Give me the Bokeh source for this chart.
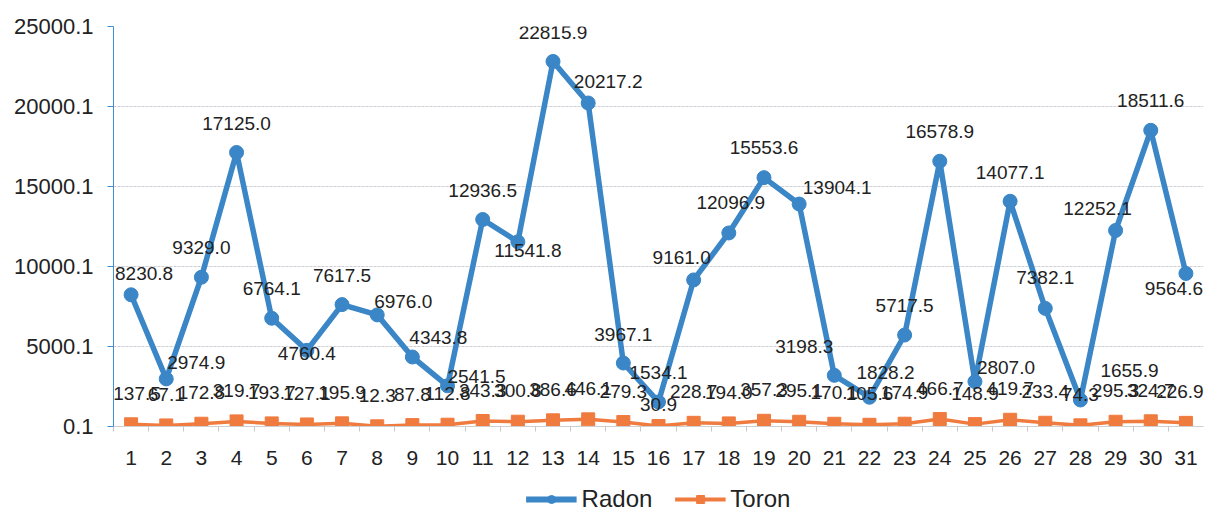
from bokeh.plotting import figure
from bokeh.layouts import column
from bokeh.models import (ColumnDataSource, FixedTicker, CustomJSTickFormatter, Legend,
                          LegendItem, Range1d, LabelSet)
from bokeh.core.properties import value
from bokeh.embed import file_html
from bokeh.resources import INLINE

days = list(range(1, 32))
radon = [8230.8, 2974.9, 9329.0, 17125.0, 6764.1, 4760.4, 7617.5, 6976.0, 4343.8, 2541.5,
         12936.5, 11541.8, 22815.9, 20217.2, 3967.1, 1534.1, 9161.0, 12096.9, 15553.6, 13904.1,
         3198.3, 1828.2, 5717.5, 16578.9, 2807.0, 14077.1, 7382.1, 1655.9, 12252.1, 18511.6, 9564.6]
toron = [137.5, 67.1, 172.8, 319.7, 193.7, 127.1, 195.9, 12.3, 87.8, 112.8,
         343.3, 300.8, 386.6, 446.1, 279.3, 30.9, 228.7, 194.0, 357.3, 295.1,
         170.1, 105.6, 174.9, 466.7, 148.9, 419.7, 233.4, 74.3, 295.3, 324.7, 226.9]
y_ticks = [0.1, 5000.1, 10000.1, 15000.1, 20000.1, 25000.1]

# label placement offsets (screen px, positive = right / up)
radon_dx = [13, 30, 0, 0, 0, 0, 0, 26, 26, 29, 0, 10, 0, 20, 0, 0, -12, 2, 0, 38,
            -30, 16, 0, 0, 31, 0, 0, 49, -18, 0, -12]
radon_dy = [21, 16, 30, 29, 30, -3, 29, 13, 20, 9, 29, -9, 29, 22, 29, 29, 22, 30, 30, 17,
            29, 25, 30, 30, 14, 29, 31, 30, 22, 30, -15]
toron_dx = [0] * 31
toron_dx[0] = 6
toron_dx[30] = -6
toron_dy = [31] * 31
toron_dy[15] = 22

BLUE = "#3a86c6"
ORANGE = "#f07b3f"
FONT = "Liberation Sans"

p = figure(width=1224, height=485, output_backend="svg", toolbar_location=None,
           x_range=Range1d(0.5, 31.5), y_range=Range1d(0.1, 25000.1),
           min_border_left=113, min_border_right=21, min_border_top=26, min_border_bottom=59)
p.outline_line_color = None
p.background_fill_color = "white"

rsrc = ColumnDataSource(dict(x=days, y=radon, label=[f"{v:.1f}" for v in radon],
                             dx=radon_dx, dy=radon_dy))
tsrc = ColumnDataSource(dict(x=days, y=toron, label=[f"{v:.1f}" for v in toron],
                             dx=toron_dx, dy=toron_dy))

p.line("x", "y", source=rsrc, line_color=BLUE, line_width=5.5)
p.scatter("x", "y", source=rsrc, marker="circle", size=14, fill_color=BLUE, line_color=BLUE)
p.line("x", "y", source=tsrc, line_color=ORANGE, line_width=3.5)
p.scatter("x", "y", source=tsrc, marker="square", size=13, fill_color=ORANGE, line_color=ORANGE)

for src in (rsrc, tsrc):
    p.add_layout(LabelSet(x="x", y="y", text="label", source=src, x_offset="dx", y_offset="dy",
                          text_align="center", text_baseline="middle", text_font=value(FONT),
                          text_font_size=value("19px"), text_color=value("#222222")))

# axes
p.xaxis.ticker = FixedTicker(ticks=days, minor_ticks=[d + 0.5 for d in range(0, 31)])
p.xaxis.axis_line_color = "#cfcfcf"
p.xaxis.major_tick_line_color = None
p.xaxis.minor_tick_line_color = "#c8c8c8"
p.xaxis.minor_tick_out = 5
p.xaxis.minor_tick_in = 0
p.xaxis.major_label_standoff = 18
p.xaxis.major_label_text_font = FONT
p.xaxis.major_label_text_font_size = "21px"
p.xaxis.major_label_text_color = "#222222"

p.yaxis.ticker = FixedTicker(ticks=y_ticks)
p.yaxis.formatter = CustomJSTickFormatter(code="return tick.toFixed(1);")
p.yaxis.axis_line_color = "#3d8fd6"
p.yaxis.major_tick_line_color = "#3d8fd6"
p.yaxis.major_tick_out = 6
p.yaxis.major_tick_in = 0
p.yaxis.minor_tick_line_color = None
p.yaxis.major_label_standoff = 14
p.yaxis.major_label_text_font = FONT
p.yaxis.major_label_text_font_size = "22px"
p.yaxis.major_label_text_color = "#222222"

p.xgrid.grid_line_color = None
p.ygrid.ticker = FixedTicker(ticks=y_ticks)
p.ygrid.grid_line_color = "#cfcfd6"
p.ygrid.grid_line_dash = "3 1"

# legend strip below the chart (proxy glyphs sit outside its visible range)
lg = figure(width=1224, height=28, output_backend="svg", toolbar_location=None,
            x_range=Range1d(0, 1), y_range=Range1d(0, 1), x_axis_type=None, y_axis_type=None,
            min_border=0)
lg.outline_line_color = None
lg.xgrid.grid_line_color = None
lg.ygrid.grid_line_color = None
proxy = ColumnDataSource(dict(x=[-10, -11], y=[-10, -11]))
a1 = lg.line("x", "y", source=proxy, line_color=BLUE, line_width=6)
a2 = lg.scatter("x", "y", source=proxy, marker="circle", size=15, fill_color=BLUE, line_color=BLUE)
b1 = lg.line("x", "y", source=proxy, line_color=ORANGE, line_width=4)
b2 = lg.scatter("x", "y", source=proxy, marker="square", size=14, fill_color=ORANGE, line_color=ORANGE)
legend = Legend(items=[LegendItem(label="Radon", renderers=[a1, a2]),
                       LegendItem(label="Toron", renderers=[b1, b2])],
                location="center", orientation="horizontal",
                label_text_font=FONT, label_text_font_size="24px", label_text_color="#222222",
                glyph_width=51, glyph_height=20, label_standoff=5, spacing=22,
                border_line_color=None, background_fill_alpha=0, padding=0, margin=0)
lg.add_layout(legend, "center")

layout = column(p, lg, spacing=0)
open("out.html", "w").write(file_html(layout, INLINE))
